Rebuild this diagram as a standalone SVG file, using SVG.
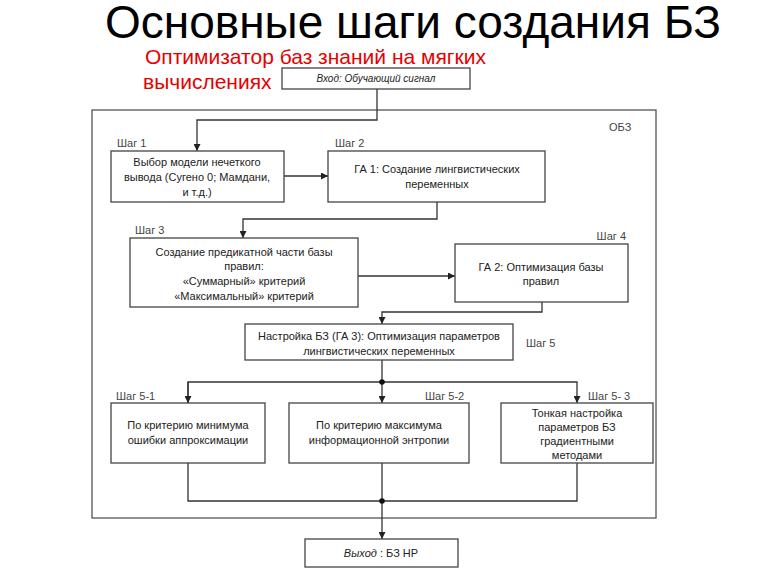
<svg xmlns="http://www.w3.org/2000/svg" width="768" height="576" viewBox="0 0 768 576">
<defs>
<style>
.title{font-family:"Liberation Sans",Arial,sans-serif;font-size:46px;fill:#000}
.sub{font-family:"Liberation Sans",Arial,sans-serif;font-size:21px;fill:#e60000}
.box{fill:#fff;stroke:#444;stroke-width:1.3}
.t{font-family:"Liberation Sans",Arial,sans-serif;font-size:11px;fill:#222;text-anchor:middle}
.ti{font-family:"Liberation Sans",Arial,sans-serif;font-size:10px;fill:#222;text-anchor:middle;font-style:italic}
.lbl{font-family:"Liberation Sans",Arial,sans-serif;font-size:11px;fill:#444}
.ln{fill:none;stroke:#333;stroke-width:1.3}
</style>
<marker id="ar" viewBox="0 0 8 8" refX="8" refY="4" markerWidth="7" markerHeight="7" markerUnits="userSpaceOnUse" orient="auto">
<path d="M0,0 L8,4 L0,8 z" fill="#222"/>
</marker>
</defs>
<rect width="768" height="576" fill="#fff"/>
<text class="title" x="105" y="38">Основные шаги создания БЗ</text>
<text class="sub" x="145" y="64">Оптимизатор баз знаний на мягких</text>
<text class="sub" x="143" y="89">вычислениях</text>

<g id="frame">
<rect x="92" y="110" width="564" height="408" fill="none" stroke="#555" stroke-width="1.3"/>
<text class="lbl" x="609" y="131" font-size="12">ОБЗ</text>
</g>

<g id="connectors">
<path class="ln" d="M377,89 V120 H197 V151" marker-end="url(#ar)"/>
<path class="ln" d="M284,176 H328" marker-end="url(#ar)"/>
<path class="ln" d="M437,202 V219 H243 V238" marker-end="url(#ar)"/>
<path class="ln" d="M358,276 H455" marker-end="url(#ar)"/>
<path class="ln" d="M542,302 V312 H382 V324" marker-end="url(#ar)"/>
<path class="ln" d="M382,360 V382"/>
<path class="ln" d="M188,403 V382 H577 V403" marker-end="url(#ar)"/>
<path class="ln" d="M188,382 V403" marker-end="url(#ar)"/>
<path class="ln" d="M382,382 V403" marker-end="url(#ar)"/>
<path class="ln" d="M188,463 V501 H577 V463"/>
<path class="ln" d="M382,463 V539" marker-end="url(#ar)"/>
<circle cx="382" cy="382" r="2.8" fill="#111"/>
<circle cx="382" cy="501" r="2.8" fill="#111"/>
</g>

<g id="input">
<rect class="box" x="282" y="68" width="188" height="21"/>
<text class="ti" x="376" y="82">Вход: Обучающий сигнал</text>
</g>

<g id="step1">
<text class="lbl" x="117" y="147">Шаг 1</text>
<rect class="box" x="111" y="151" width="173" height="51"/>
<text class="t" x="197" y="166">Выбор модели нечеткого</text>
<text class="t" x="197" y="181">вывода (Сугено 0; Мамдани,</text>
<text class="t" x="197" y="196">и т.д.)</text>
</g>

<g id="step2">
<text class="lbl" x="335" y="147">Шаг 2</text>
<rect class="box" x="328" y="151" width="217" height="51"/>
<text class="t" x="437" y="173">ГА 1: Создание лингвистических</text>
<text class="t" x="437" y="188">переменных</text>
</g>

<g id="step3">
<text class="lbl" x="135" y="234">Шаг 3</text>
<rect class="box" x="130" y="238" width="228" height="69"/>
<text class="t" x="244" y="256">Создание предикатной части базы</text>
<text class="t" x="244" y="270">правил:</text>
<text class="t" x="244" y="285">«Суммарный» критерий</text>
<text class="t" x="244" y="300">«Максимальный» критерий</text>
</g>

<g id="step4">
<text class="lbl" x="626" y="240" text-anchor="end">Шаг 4</text>
<rect class="box" x="455" y="244" width="173" height="58"/>
<text class="t" x="541" y="271">ГА 2: Оптимизация базы</text>
<text class="t" x="541" y="285">правил</text>
</g>

<g id="step5">
<rect class="box" x="245" y="324" width="268" height="36"/>
<text class="t" x="379" y="340">Настройка БЗ (ГА 3): Оптимизация параметров</text>
<text class="t" x="379" y="355">лингвистических переменных</text>
<text class="lbl" x="526" y="347">Шаг 5</text>
</g>

<g id="step5-1">
<text class="lbl" x="116" y="400">Шаг 5-1</text>
<rect class="box" x="111" y="403" width="154" height="60"/>
<text class="t" x="188" y="429">По критерию минимума</text>
<text class="t" x="188" y="444">ошибки аппроксимации</text>
</g>

<g id="step5-2">
<text class="lbl" x="425" y="400">Шаг 5-2</text>
<rect class="box" x="289" y="403" width="180" height="60"/>
<text class="t" x="379" y="429">По критерию максимума</text>
<text class="t" x="379" y="444">информационной энтропии</text>
</g>

<g id="step5-3">
<text class="lbl" x="588" y="400">Шаг 5- 3</text>
<rect class="box" x="501" y="403" width="152" height="60"/>
<text class="t" x="577" y="417">Тонкая настройка</text>
<text class="t" x="577" y="431">параметров БЗ</text>
<text class="t" x="577" y="445">градиентными</text>
<text class="t" x="577" y="459">методами</text>
</g>

<g id="output">
<rect class="box" x="305" y="539" width="153" height="28"/>
<text class="t" x="381" y="557"><tspan font-style="italic">Выход</tspan> : БЗ НР</text>
</g>
</svg>
